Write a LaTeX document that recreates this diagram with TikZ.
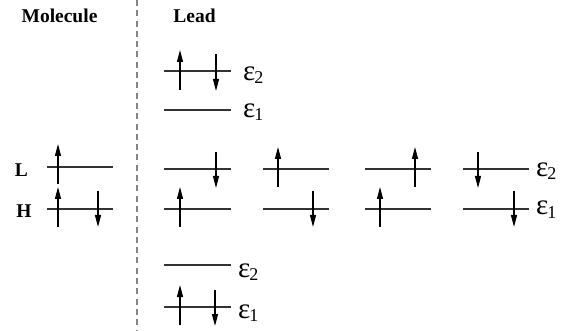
\documentclass[tikz,border=0pt]{standalone}
\usepackage{fontspec}
\setmainfont{Liberation Serif}
\usetikzlibrary{arrows.meta}
\newcommand\eplab[1]{{\fontsize{29}{29}\selectfont ε}\kern-1pt\raisebox{-3pt}{\fontsize{18}{18}\selectfont #1}}
\begin{document}
\begin{tikzpicture}[x=1pt,y=-1pt,
  lvl/.style={line width=1.3pt, draw=black!80},
  spin/.style={line width=1.3pt, draw=black, -{Triangle[length=12pt,width=6pt]}},
  hd/.style={font=\fontsize{19.5}{20}\selectfont\bfseries, anchor=base, inner sep=0pt},
  eps/.style={anchor=base west, inner sep=0pt},
  sep/.style={line width=2pt, draw=black!48, dash pattern=on 6pt off 4.3pt}]
\useasboundingbox (0,0) rectangle (565,331);
% separator
\coordinate (sT) at (137,0);
\coordinate (sB) at (137,331);
\draw[sep] (sT) -- (sB);
% headings
\node[hd] (mol) at (59.5,22.5) {Molecule};
\node[hd] (lead) at (194.5,22.5) {Lead};
\node[hd] (Lt) at (21.5,176.5) {L};
\node[hd] (Ht) at (24,217.5) {H};
% molecule levels
\draw[lvl] (47,167) coordinate (mL1) -- (113,167) coordinate (mL2);
\draw[lvl] (47,209) coordinate (mH1) -- (113,209) coordinate (mH2);
\draw[spin] (58,184) -- (58,144);
\draw[spin] (58,227) -- (58,187);
\draw[spin] (98,191) -- (98,227);
% lead top
\draw[lvl] (164,71) coordinate (t21) -- (231,71) coordinate (t22);
\draw[lvl] (164,110) coordinate (t11) -- (231,110) coordinate (t12);
\draw[spin] (180,90) -- (180,50);
\draw[spin] (216,54) -- (216,91);
\node[eps] (te2) at (243,81) {\eplab{2}};
\node[eps] (te1) at (243,118) {\eplab{1}};
% lead middle group A
\draw[lvl] (164,169) -- (231,169);
\draw[lvl] (164,209) -- (231,209);
\draw[spin] (216,152) -- (216,188);
\draw[spin] (180,227) -- (180,187);
% group B
\draw[lvl] (263,169) -- (329,169);
\draw[lvl] (263,209) -- (329,209);
\draw[spin] (278,187) -- (278,147);
\draw[spin] (313,191) -- (313,227);
% group C
\draw[lvl] (365,169) -- (431,169);
\draw[lvl] (365,209) -- (431,209);
\draw[spin] (415,187) -- (415,147);
\draw[spin] (380,227) -- (380,187);
% group D
\draw[lvl] (463,169) -- (529,169);
\draw[lvl] (463,209) -- (529,209);
\draw[spin] (478,152) -- (478,188);
\draw[spin] (514,191) -- (514,227);
\node[eps] (de2) at (536,177) {\eplab{2}};
\node[eps] (de1) at (536,215) {\eplab{1}};
% lead bottom
\draw[lvl] (164,265) -- (231,265);
\draw[lvl] (164,307) -- (231,307);
\draw[spin] (180,325) -- (180,285);
\draw[spin] (215,290) -- (215,326);
\node[eps] (be2) at (238,277) {\eplab{2}};
\node[eps] (be1) at (238,318) {\eplab{1}};
\end{tikzpicture}
\end{document}
